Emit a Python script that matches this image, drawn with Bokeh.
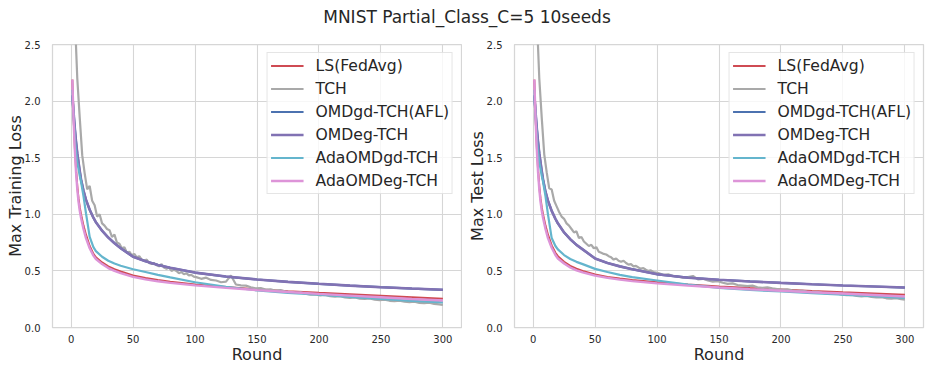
from bokeh.plotting import figure
from bokeh.layouts import column, row
from bokeh.models import Div, Legend, LegendItem, FixedTicker, NumeralTickFormatter, Range1d
from bokeh.embed import file_html
from bokeh.resources import INLINE

TITLE = "MNIST Partial_Class_C=5 10seeds"
X_TICKS = [0, 50, 100, 150, 200, 250, 300]
Y_TICKS = [0.0, 0.5, 1.0, 1.5, 2.0, 2.5]
NAMES = ["LS(FedAvg)", "TCH", "OMDgd-TCH(AFL)", "OMDeg-TCH", "AdaOMDgd-TCH", "AdaOMDeg-TCH"]

# rounds at which smooth curves were read
rounds = [1, 2, 3, 4, 5, 6, 7, 8, 10, 12, 15, 18, 20, 25, 30, 35, 40, 50, 60, 70, 80,
          100, 125, 150, 175, 200, 225, 250, 275, 300]
# rounds at which the noisy TCH curve was read
tch_rounds = list(range(1, 100, 2)) + list(range(101, 300, 4)) + [300]

# ---------------- Max Training Loss ----------------
train_ls = [2.19, 1.86, 1.60, 1.40, 1.25, 1.14, 1.06, 1.00, 0.90, 0.82, 0.72, 0.65, 0.62, 0.575, 0.54,
            0.515, 0.495, 0.46, 0.437, 0.42, 0.405, 0.38, 0.357, 0.337, 0.321, 0.307, 0.294, 0.281, 0.268, 0.255]
train_omdgd = [2.05, 1.90, 1.76, 1.64, 1.54, 1.46, 1.38, 1.31, 1.21, 1.13, 1.04, 0.97, 0.93, 0.855, 0.795,
               0.745, 0.70, 0.625, 0.585, 0.553, 0.528, 0.485, 0.45, 0.424, 0.403, 0.386, 0.37, 0.356, 0.344, 0.333]
train_omdeg = [2.05, 1.90, 1.76, 1.64, 1.54, 1.46, 1.38, 1.31, 1.21, 1.13, 1.04, 0.97, 0.93, 0.855, 0.795,
               0.745, 0.70, 0.625, 0.585, 0.553, 0.528, 0.485, 0.45, 0.424, 0.403, 0.386, 0.37, 0.356, 0.344, 0.333]
train_adagd = [2.10, 1.86, 1.68, 1.55, 1.46, 1.40, 1.34, 1.29, 1.16, 1.01, 0.80, 0.71, 0.675, 0.625, 0.59,
               0.565, 0.545, 0.515, 0.49, 0.465, 0.443, 0.40, 0.36, 0.328, 0.306, 0.29, 0.271, 0.253, 0.236, 0.222]
train_adaeg = [2.19, 1.84, 1.57, 1.37, 1.22, 1.11, 1.03, 0.97, 0.87, 0.79, 0.70, 0.635, 0.605, 0.56, 0.525,
               0.50, 0.48, 0.447, 0.425, 0.408, 0.394, 0.372, 0.35, 0.33, 0.313, 0.297, 0.282, 0.267, 0.252, 0.238]
train_tch = [3.3, 2.75, 2.2, 1.85, 1.52, 1.36, 1.22, 1.25, 1.12, 1.08,
             0.98, 1.0, 0.92, 0.9, 0.87, 0.86, 0.8, 0.82, 0.75, 0.74,
             0.70, 0.71, 0.66, 0.67, 0.64, 0.65, 0.62, 0.63, 0.6, 0.59,
             0.6, 0.57, 0.56, 0.57, 0.55, 0.54, 0.56, 0.53, 0.52, 0.53,
             0.5, 0.51, 0.5, 0.48, 0.49, 0.47, 0.48, 0.46, 0.465, 0.45,
             0.445, 0.43, 0.44, 0.42, 0.415, 0.40, 0.405, 0.46, 0.38, 0.372,
             0.37, 0.355, 0.345, 0.348, 0.335, 0.338, 0.325, 0.33, 0.318, 0.312,
             0.305, 0.31, 0.298, 0.29, 0.292, 0.283, 0.288, 0.276, 0.272, 0.276,
             0.265, 0.262, 0.266, 0.255, 0.252, 0.256, 0.245, 0.242, 0.246, 0.236,
             0.233, 0.237, 0.228, 0.225, 0.229, 0.218, 0.215, 0.219, 0.208, 0.205,
             0.20]

# ---------------- Max Test Loss ----------------
test_ls = [2.19, 1.86, 1.60, 1.40, 1.25, 1.14, 1.06, 1.00, 0.90, 0.82, 0.725, 0.66, 0.63, 0.58, 0.545,
           0.52, 0.50, 0.468, 0.447, 0.432, 0.42, 0.40, 0.38, 0.362, 0.348, 0.336, 0.323, 0.311, 0.30, 0.289]
test_omdgd = [2.05, 1.90, 1.76, 1.64, 1.54, 1.46, 1.38, 1.31, 1.20, 1.12, 1.03, 0.96, 0.92, 0.84, 0.78,
              0.73, 0.69, 0.61, 0.57, 0.54, 0.515, 0.47, 0.44, 0.422, 0.407, 0.394, 0.382, 0.371, 0.362, 0.353]
test_omdeg = [2.05, 1.90, 1.76, 1.64, 1.54, 1.46, 1.38, 1.31, 1.20, 1.12, 1.03, 0.96, 0.92, 0.84, 0.78,
              0.73, 0.69, 0.61, 0.57, 0.54, 0.515, 0.47, 0.44, 0.422, 0.407, 0.394, 0.382, 0.371, 0.362, 0.353]
test_adagd = [2.10, 1.86, 1.68, 1.55, 1.46, 1.40, 1.34, 1.29, 1.16, 1.00, 0.79, 0.72, 0.69, 0.64, 0.605,
              0.58, 0.56, 0.518, 0.49, 0.465, 0.445, 0.415, 0.378, 0.35, 0.332, 0.318, 0.304, 0.29, 0.276, 0.262]
test_adaeg = [2.19, 1.84, 1.57, 1.37, 1.22, 1.11, 1.03, 0.97, 0.87, 0.79, 0.705, 0.64, 0.61, 0.565, 0.53,
              0.505, 0.487, 0.458, 0.438, 0.423, 0.41, 0.39, 0.37, 0.353, 0.338, 0.325, 0.312, 0.30, 0.287, 0.274]
test_tch = [3.3, 2.75, 2.2, 1.85, 1.53, 1.37, 1.23, 1.22, 1.12, 1.07,
            1.02, 0.98, 0.96, 0.92, 0.9, 0.87, 0.84, 0.85, 0.79, 0.8,
            0.76, 0.74, 0.72, 0.73, 0.7, 0.71, 0.67, 0.66, 0.65, 0.645,
            0.63, 0.62, 0.6, 0.61, 0.59, 0.58, 0.59, 0.57, 0.555, 0.56,
            0.54, 0.545, 0.53, 0.52, 0.525, 0.51, 0.5, 0.505, 0.49, 0.485,
            0.48, 0.465, 0.47, 0.455, 0.45, 0.44, 0.445, 0.455, 0.425, 0.43,
            0.415, 0.405, 0.41, 0.395, 0.385, 0.39, 0.375, 0.37, 0.365, 0.37,
            0.355, 0.35, 0.355, 0.345, 0.34, 0.335, 0.338, 0.328, 0.322, 0.326,
            0.317, 0.312, 0.315, 0.306, 0.302, 0.296, 0.3, 0.29, 0.285, 0.288,
            0.279, 0.275, 0.28, 0.27, 0.265, 0.268, 0.258, 0.255, 0.26, 0.25,
            0.245]

COLORS = ["#cf4b53", "#a9a9a9", "#4c72b0", "#8172b3", "#64b5cd", "#dd94d8"]
WIDTHS = [2.0, 2.2, 2.2, 2.6, 2.2, 2.4]
FONT = "DejaVu Sans"
TXT = "#262626"
GRID = "#d6d6d6"


def make(ylabel, ls, tch, omdgd, omdeg, adagd, adaeg, width, left, right):
    p = figure(width=width, height=338, x_range=Range1d(-15, 315), y_range=Range1d(0, 2.5),
               output_backend="svg", toolbar_location=None,
               min_border_left=left, min_border_right=right, min_border_top=8, min_border_bottom=47)
    p.background_fill_color = "white"
    p.border_fill_color = "white"
    p.outline_line_color = GRID
    p.outline_line_width = 1.25
    p.grid.grid_line_color = GRID
    p.grid.grid_line_width = 1.1

    p.xaxis.ticker = FixedTicker(ticks=X_TICKS)
    p.yaxis.ticker = FixedTicker(ticks=Y_TICKS)
    p.yaxis.formatter = NumeralTickFormatter(format="0.0")
    for ax in (p.xaxis, p.yaxis):
        ax.axis_line_color = None
        ax.major_tick_line_color = None
        ax.minor_tick_line_color = None
        ax.major_label_text_font = FONT
        ax.major_label_text_font_size = "10px"
        ax.major_label_text_color = TXT
        ax.axis_label_text_font = FONT
        ax.axis_label_text_font_size = "16px"
        ax.axis_label_text_font_style = "normal"
        ax.axis_label_text_color = TXT
    p.xaxis.major_label_standoff = 1
    p.xaxis.axis_label_standoff = -1
    p.yaxis.major_label_standoff = 6
    p.yaxis.axis_label_standoff = -3
    p.xaxis.axis_label = "Round"
    p.yaxis.axis_label = ylabel

    data = [(rounds, ls), (tch_rounds, tch), (rounds, omdgd), (rounds, omdeg), (rounds, adagd), (rounds, adaeg)]
    items = []
    for (xs, ys), name, c, w in zip(data, NAMES, COLORS, WIDTHS):
        r = p.line(xs, ys, line_color=c, line_width=w)
        items.append(LegendItem(label=name, renderers=[r]))

    leg = Legend(items=items, location="top_right", margin=8, padding=3, spacing=4,
                 label_height=19, glyph_height=19, glyph_width=33, label_standoff=12,
                 label_text_font=FONT, label_text_font_size="15.6px", label_text_color=TXT,
                 border_line_color="#cccccc", border_line_width=1,
                 background_fill_color="white", background_fill_alpha=0.8)
    p.add_layout(leg, "center")
    return p


p1 = make("Max Training Loss", train_ls, train_tch, train_omdgd, train_omdeg, train_adagd, train_adaeg,
          462, 52, 1)
p2 = make("Max Test Loss", test_ls, test_tch, test_omdgd, test_omdeg, test_adagd, test_adaeg,
          472, 52, 11)

title = Div(text='<div style="padding-top:5px">' + TITLE + '</div>', width=934, height=36, margin=(0, 0, 0, 0),
            styles={"font-family": FONT, "font-size": "17px", "text-align": "center",
                    "color": TXT})

layout = column(title, row(p1, p2, spacing=0), spacing=0)

open("out.html", "w").write(file_html(layout, INLINE))
